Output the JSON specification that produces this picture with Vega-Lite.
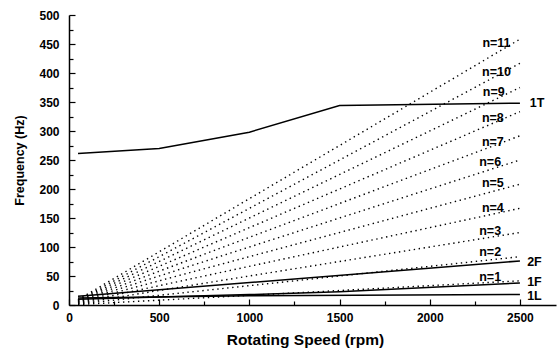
{
  "$schema": "https://vega.github.io/schema/vega-lite/v6.json",
  "autosize": "none",
  "width": 487,
  "height": 290,
  "padding": {"left": 69, "top": 15, "right": 3, "bottom": 49},
  "background": "white",
  "config": {
    "view": {"stroke": null},
    "font": "Liberation Sans",
    "axis": {"grid": false, "domainColor": "black", "tickColor": "black", "labelColor": "black", "titleColor": "black", "labelFontWeight": "bold", "titleFontWeight": "bold", "domainWidth": 1.5, "tickWidth": 1.2}
  },
  "datasets": {
    "modes": [
      {"mode": "1T", "rpm": 50, "freq": 261},
      {"mode": "1T", "rpm": 500, "freq": 270},
      {"mode": "1T", "rpm": 1000, "freq": 298},
      {"mode": "1T", "rpm": 1500, "freq": 344},
      {"mode": "1T", "rpm": 2500, "freq": 348},
      {"mode": "2F", "rpm": 50, "freq": 15},
      {"mode": "2F", "rpm": 2500, "freq": 76},
      {"mode": "1F", "rpm": 50, "freq": 10},
      {"mode": "1F", "rpm": 1000, "freq": 18},
      {"mode": "1F", "rpm": 1500, "freq": 23},
      {"mode": "1F", "rpm": 2500, "freq": 38},
      {"mode": "1L", "rpm": 50, "freq": 12},
      {"mode": "1L", "rpm": 1000, "freq": 16},
      {"mode": "1L", "rpm": 2500, "freq": 18}
    ],
    "orders": [
      {"n": 1, "rpm": 50, "freq": 0.8}, {"n": 1, "rpm": 2500, "freq": 41.7},
      {"n": 2, "rpm": 50, "freq": 1.7}, {"n": 2, "rpm": 2500, "freq": 83.3},
      {"n": 3, "rpm": 50, "freq": 2.5}, {"n": 3, "rpm": 2500, "freq": 125},
      {"n": 4, "rpm": 50, "freq": 3.3}, {"n": 4, "rpm": 2500, "freq": 166.7},
      {"n": 5, "rpm": 50, "freq": 4.2}, {"n": 5, "rpm": 2500, "freq": 208.3},
      {"n": 6, "rpm": 50, "freq": 5}, {"n": 6, "rpm": 2500, "freq": 250},
      {"n": 7, "rpm": 50, "freq": 5.8}, {"n": 7, "rpm": 2500, "freq": 291.7},
      {"n": 8, "rpm": 50, "freq": 6.7}, {"n": 8, "rpm": 2500, "freq": 333.3},
      {"n": 9, "rpm": 50, "freq": 7.5}, {"n": 9, "rpm": 2500, "freq": 375},
      {"n": 10, "rpm": 50, "freq": 8.3}, {"n": 10, "rpm": 2500, "freq": 416.7},
      {"n": 11, "rpm": 50, "freq": 9.2}, {"n": 11, "rpm": 2500, "freq": 458.3}
    ],
    "orderLabels": [
      {"label": "n=11", "rpm": 2370, "freq": 452},
      {"label": "n=10", "rpm": 2370, "freq": 402},
      {"label": "n=9", "rpm": 2355, "freq": 367},
      {"label": "n=8", "rpm": 2350, "freq": 322},
      {"label": "n=7", "rpm": 2350, "freq": 281},
      {"label": "n=6", "rpm": 2335, "freq": 247},
      {"label": "n=5", "rpm": 2350, "freq": 210},
      {"label": "n=4", "rpm": 2350, "freq": 167},
      {"label": "n=3", "rpm": 2335, "freq": 128},
      {"label": "n=2", "rpm": 2335, "freq": 91},
      {"label": "n=1", "rpm": 2335, "freq": 48}
    ],
    "modeLabels": [
      {"label": "1T", "rpm": 2555, "freq": 348},
      {"label": "2F", "rpm": 2540, "freq": 74},
      {"label": "1F", "rpm": 2540, "freq": 40},
      {"label": "1L", "rpm": 2540, "freq": 15}
    ]
  },
  "encoding": {
    "x": {"field": "rpm", "type": "quantitative",
      "scale": {"domain": [0, 2700], "nice": false, "zero": false},
      "axis": {"title": "Rotating Speed (rpm)", "values": [0, 250, 500, 750, 1000, 1250, 1500, 1750, 2000, 2250, 2500],
        "labelExpr": "datum.value % 500 === 0 ? datum.label : ''",
        "format": "d",
        "tickSize": {"condition": {"test": "datum.value % 500 === 0", "value": -6}, "value": -4},
        "labelFontSize": 12, "labelPadding": 13, "titleFontSize": 15.5, "titlePadding": 9, "titleX": 236, "labelFlush": false}},
    "y": {"field": "freq", "type": "quantitative",
      "scale": {"domain": [0, 500], "nice": false},
      "axis": {"title": "Frequency (Hz)", "values": [0, 25, 50, 75, 100, 125, 150, 175, 200, 225, 250, 275, 300, 325, 350, 375, 400, 425, 450, 475, 500],
        "labelExpr": "datum.value % 50 === 0 ? datum.label : ''",
        "tickSize": {"condition": {"test": "datum.value % 50 === 0", "value": -6}, "value": -4},
        "labelFontSize": 12, "labelPadding": 16, "titleFontSize": 12.5, "titlePadding": 12, "labelFlush": false}}
  },
  "layer": [
    {"data": {"name": "orders"},
      "mark": {"type": "line", "color": "black", "strokeWidth": 1.4, "strokeDash": [1.4, 3.6], "strokeCap": "butt"},
      "encoding": {"detail": {"field": "n", "type": "nominal"}}},
    {"data": {"name": "modes"},
      "mark": {"type": "line", "color": "black", "strokeWidth": 1.5},
      "encoding": {"detail": {"field": "mode", "type": "nominal"}}},
    {"data": {"name": "orderLabels"},
      "mark": {"type": "text", "color": "black", "fontWeight": "bold", "fontSize": 12.5, "align": "center", "baseline": "middle"},
      "encoding": {"text": {"field": "label"}}},
    {"data": {"name": "modeLabels"},
      "mark": {"type": "text", "color": "black", "fontWeight": "bold", "fontSize": 12.5, "align": "left", "baseline": "middle"},
      "encoding": {"text": {"field": "label"}}}
  ]
}
